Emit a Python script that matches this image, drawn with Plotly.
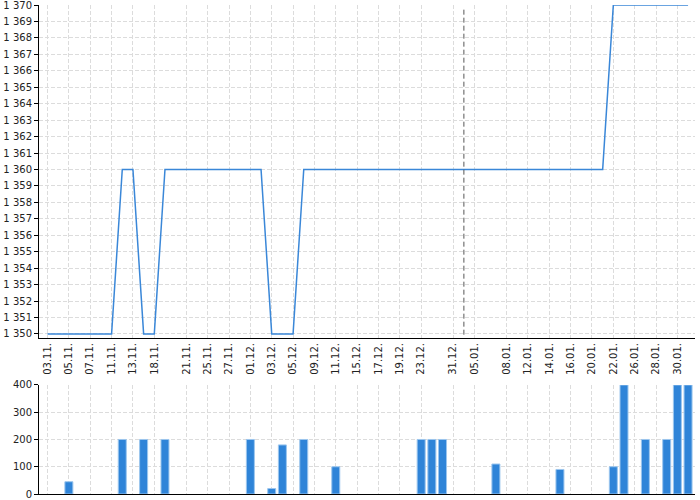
import plotly.graph_objects as go

# trading days (category axis)
dates = [
    "03.11.", "04.11.", "05.11.", "06.11.", "07.11.", "10.11.", "11.11.", "12.11.",
    "13.11.", "14.11.", "18.11.", "19.11.", "20.11.", "21.11.", "24.11.", "25.11.",
    "26.11.", "27.11.", "28.11.", "01.12.", "02.12.", "03.12.", "04.12.", "05.12.",
    "08.12.", "09.12.", "10.12.", "11.12.", "12.12.", "15.12.", "16.12.", "17.12.",
    "18.12.", "19.12.", "22.12.", "23.12.", "24.12.", "30.12.", "31.12.", "02.01.",
    "05.01.", "06.01.", "07.01.", "08.01.", "09.01.", "12.01.", "13.01.", "14.01.",
    "15.01.", "16.01.", "19.01.", "20.01.", "21.01.", "22.01.", "23.01.", "26.01.",
    "27.01.", "28.01.", "29.01.", "30.01.", "02.02.",
]

price = [
    1350, 1350, 1350, 1350, 1350, 1350, 1350, 1360, 1360, 1350,
    1350, 1360, 1360, 1360, 1360, 1360, 1360, 1360, 1360, 1360,
    1360, 1350, 1350, 1350, 1360, 1360, 1360, 1360, 1360, 1360,
    1360, 1360, 1360, 1360, 1360, 1360, 1360, 1360, 1360, 1360,
    1360, 1360, 1360, 1360, 1360, 1360, 1360, 1360, 1360, 1360,
    1360, 1360, 1360, 1370, 1370, 1370, 1370, 1370, 1370, 1370,
    1370,
]

# None = no trades that day
volume = [
    None, None, 45, None, None, None, None, 200, None, 200,
    None, 200, None, None, None, None, None, None, None, 200,
    None, 20, 180, None, 200, None, None, 100, None, None,
    None, None, None, None, None, 200, 200, 200, None, None,
    None, None, 110, None, None, None, None, None, 90, None,
    None, None, None, 100, 400, None, 200, None, 200, 400,
    400,
]

tick_labels = [
    "03.11.", "05.11.", "07.11.", "11.11.", "13.11.", "18.11.", "21.11.", "25.11.",
    "27.11.", "01.12.", "03.12.", "05.12.", "09.12.", "11.12.", "15.12.", "17.12.",
    "19.12.", "23.12.", "31.12.", "05.01.", "08.01.", "12.01.", "14.01.", "16.01.",
    "20.01.", "22.01.", "26.01.", "28.01.", "30.01.",
]

year_break = "02.01."

fig = go.Figure()

fig.add_trace(go.Scatter(
    x=dates, y=price, mode="lines", cliponaxis=False,
    line=dict(color="#3a87d8", width=1.5),
    xaxis="x", yaxis="y", showlegend=False,
))

fig.add_trace(go.Bar(
    x=dates, y=volume,
    marker=dict(color="#2f84d8", line=dict(color="#9cc6ee", width=1)),
    xaxis="x2", yaxis="y2", showlegend=False,
))

grid = dict(showgrid=True, gridcolor="#dcdcdc", griddash="4px,2px", gridwidth=1,
            automargin=False, ticklabeloverflow="allow")

fig.update_layout(
    width=700, height=500,
    margin=dict(l=39, r=5, t=5, b=6),
    plot_bgcolor="white", paper_bgcolor="white",
    font=dict(family="DejaVu Sans", size=10, color="#222"),
    separators=". ",
    bargap=0.25,
    xaxis=dict(
        type="category", anchor="y", domain=[0, 1],
        range=[-0.8, 60.65],
        tickmode="array", tickvals=tick_labels, ticktext=tick_labels,
        tickangle=-90, ticks="",
        showline=True, linecolor="black", linewidth=1,
        **grid,
    ),
    yaxis=dict(
        anchor="x", domain=[0.319, 1],
        range=[1349.75, 1370], dtick=1, tickformat=",d",
        ticks="outside", ticklen=4, tickcolor="black",
        showline=True, linecolor="black", linewidth=1,
        zeroline=False,
        **grid,
    ),
    xaxis2=dict(
        type="category", anchor="y2", domain=[0, 1], matches="x",
        tickmode="array", tickvals=tick_labels,
        showticklabels=False, ticks="",
        showline=True, linecolor="black", linewidth=1,
        **grid,
    ),
    yaxis2=dict(
        anchor="x2", domain=[0, 0.223],
        range=[0, 400], dtick=100,
        ticks="outside", ticklen=4, tickcolor="black",
        showline=True, linecolor="black", linewidth=1,
        zeroline=False,
        **grid,
    ),
    shapes=[dict(
        type="line", xref="x", yref="y domain",
        x0=year_break, x1=year_break, y0=0.01, y1=0.99,
        line=dict(color="#555", width=1, dash="5px,3px"),
    )],
)

# page body has a default 8px margin; drop it so the chart sits at the window corner
fig.write_html("out.html", config={"displayModeBar": False},
               post_script="document.body.style.margin='0';")
